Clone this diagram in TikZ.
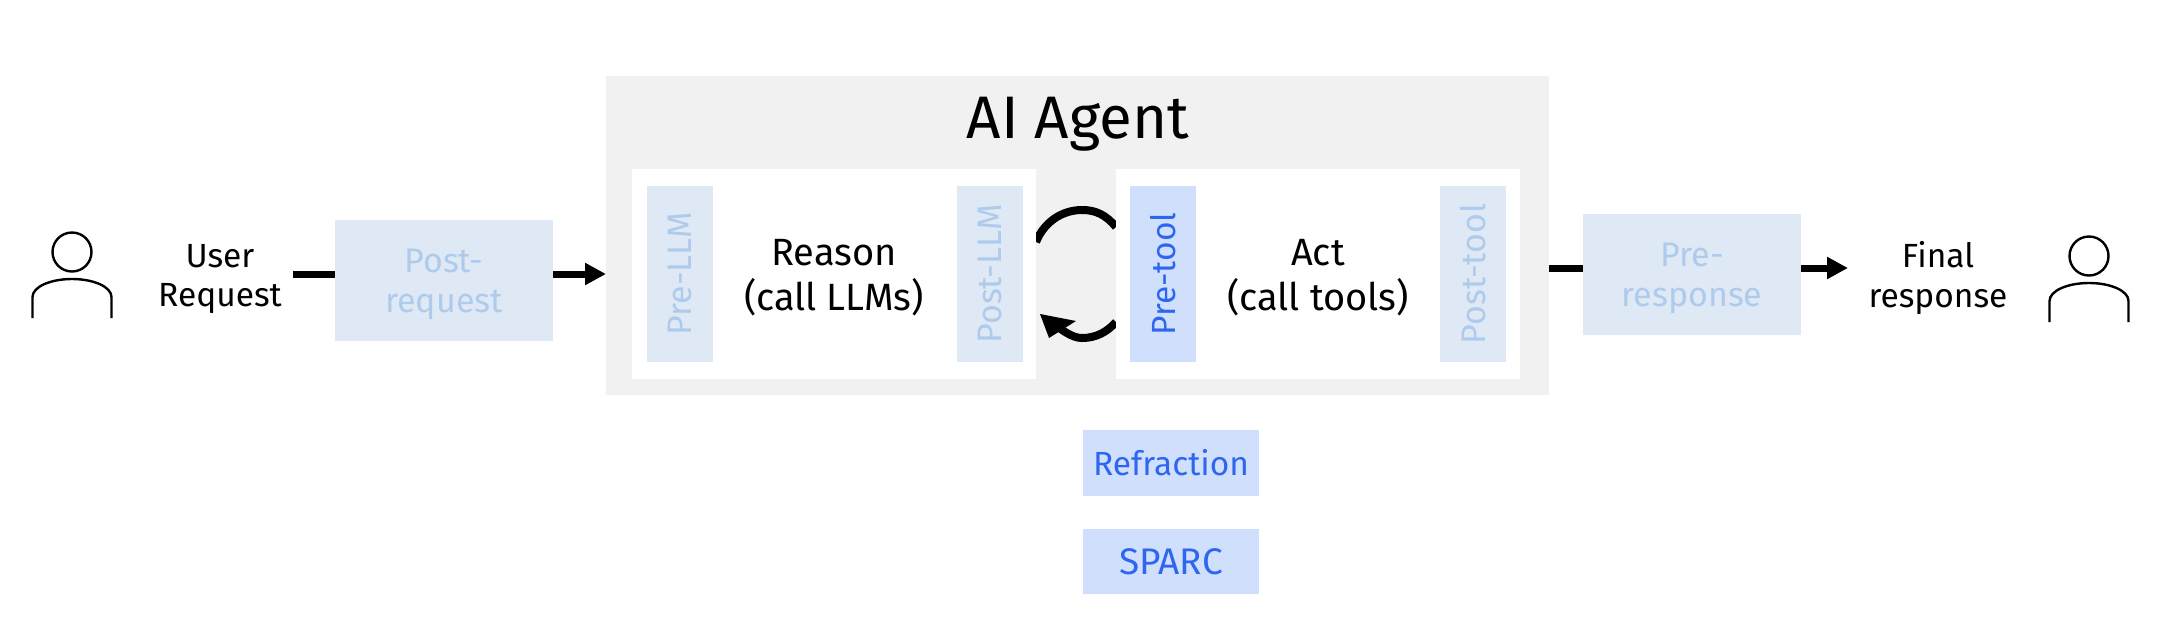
\documentclass[tikz,border=0pt]{standalone}
\usepackage{fontspec}
\setmainfont{Fira Sans}
\usetikzlibrary{arrows.meta,calc}
\definecolor{agentgray}{HTML}{F1F1F1}
\definecolor{fadefill}{HTML}{DFE8F5}
\definecolor{fadetext}{HTML}{AFCBEC}
\definecolor{activefill}{HTML}{D0DFFB}
\definecolor{activetext}{HTML}{2F66F0}
\tikzset{
  body/.style={font=\fontsize{33.5}{39.5}\selectfont,align=center,inner sep=0pt,text=black},
  big/.style={font=\fontsize{38}{45}\selectfont,align=center,inner sep=0pt,text=black},
  panel/.style={inner sep=0pt,outer sep=0pt,draw=none},
  fadebox/.style={panel,fill=fadefill,text=fadetext,font=\fontsize{34}{40}\selectfont,align=center},
  activebox/.style={panel,fill=activefill,text=activetext,font=\fontsize{33.5}{40}\selectfont,align=center},
  strip/.style={rotate=90,minimum width=176pt,minimum height=66pt},
  flow/.style={line width=7pt,black},
  flowtip/.style={flow,-{Triangle[length=21pt,width=21pt]}},
  loopline/.style={line width=8pt,black},
  person/.style={line width=2.4pt,black}
}
\newcommand{\persondraw}[3]{% name, head x, head y
  \node[person,draw,circle,inner sep=0pt,minimum size=39pt] (#1) at (#2,#3) {};
  \draw[person] ($(#1.center)+(-39.5pt,-66pt)$) -- ++(0,21pt)
    .. controls +(0,10pt) and +(-22pt,0) .. ($(#1.center)+(0,-27pt)$)
    .. controls +(22pt,0) and +(0,10pt) .. ($(#1.center)+(39.5pt,-45pt)$) -- ++(0,-21pt);
}
\begin{document}
\begin{tikzpicture}[x=1pt,y=-1pt]
\useasboundingbox (0,0) rectangle (2178,622);
% agent
\node[panel,fill=agentgray,minimum width=943pt,minimum height=319pt] (agent) at (1077.5,235.5) {};
\node[font=\fontsize{60}{62}\selectfont,inner sep=0pt,anchor=base] (title) at (1078,138) {AI Agent};
% loop arcs (behind white panels)
\coordinate (topapex) at (1082,210);
\coordinate (botapex) at (1082,338);
\coordinate (looptip) at (1040,314);
\node[panel,minimum width=404pt,minimum height=210pt] (reasonpos) at (834,274) {};
\node[panel,minimum width=404pt,minimum height=210pt] (actpos) at (1318,274) {};
\draw[loopline] ([yshift=32pt]reasonpos.east) .. controls +(8pt,20pt) and +(-20pt,0) .. (topapex)
  .. controls +(14pt,0) and +(-10pt,12pt) .. ([yshift=47pt]actpos.west);
\draw[loopline] ([yshift=-48pt]actpos.west) .. controls +(-9pt,-10pt) and +(14pt,0) .. (botapex)
  .. controls +(-10pt,0) and +(8pt,-6pt) .. ($(looptip)+(14pt,-10pt)$);
\fill[black] (looptip) -- (1049,338) -- (1076,321) -- cycle;
% white panels
\node[panel,fill=white,minimum width=404pt,minimum height=210pt,big] (reason) at (834,274) {\rule{0pt}{34pt}Reason\\(call LLMs)};
\node[panel,fill=white,minimum width=404pt,minimum height=210pt,big] (act) at (1318,274) {\rule{0pt}{34pt}Act\\(call tools)};
% strips
\node[fadebox,strip] (prellm) at (679.5,274) {Pre-LLM};
\node[fadebox,strip] (postllm) at (990,274) {Post-LLM};
\node[activebox,strip] (pretool) at (1163,274) {Pre-tool};
\node[fadebox,strip] (posttool) at (1473,274) {Post-tool};
% left flow
\persondraw{userp}{72}{252}
\node[body] (user) at (220,279) {User\\Request};
\node[fadebox,minimum width=218pt,minimum height=121pt] (postreq) at (444,280.5) {\rule{0pt}{32pt}Post-\\request};
\coordinate (userend) at (293,274);
\draw[flow] (userend) -- (userend -| postreq.west);
\draw[flowtip] (postreq.east |- userend) -- (userend -| agent.west);
% right flow
\node[fadebox,minimum width=218pt,minimum height=121pt] (preresp) at (1692,274.5) {\rule{0pt}{32pt}Pre-\\response};
\coordinate (respout) at (1848,268);
\draw[flow] (agent.east |- respout) -- (preresp.west |- respout);
\draw[flowtip] (preresp.east |- respout) -- (respout);
\node[body] (final) at (1938,278) {Final\\response};
\persondraw{finalp}{2089}{256}
% tools
\node[activebox,minimum width=176pt,minimum height=66pt] (refraction) at (1171,463) {Refraction};
\node[activebox,font=\fontsize{37}{40}\selectfont,minimum width=176pt,minimum height=65pt] (sparc) at (1171,561.5) {SPARC};
\end{tikzpicture}
\end{document}
